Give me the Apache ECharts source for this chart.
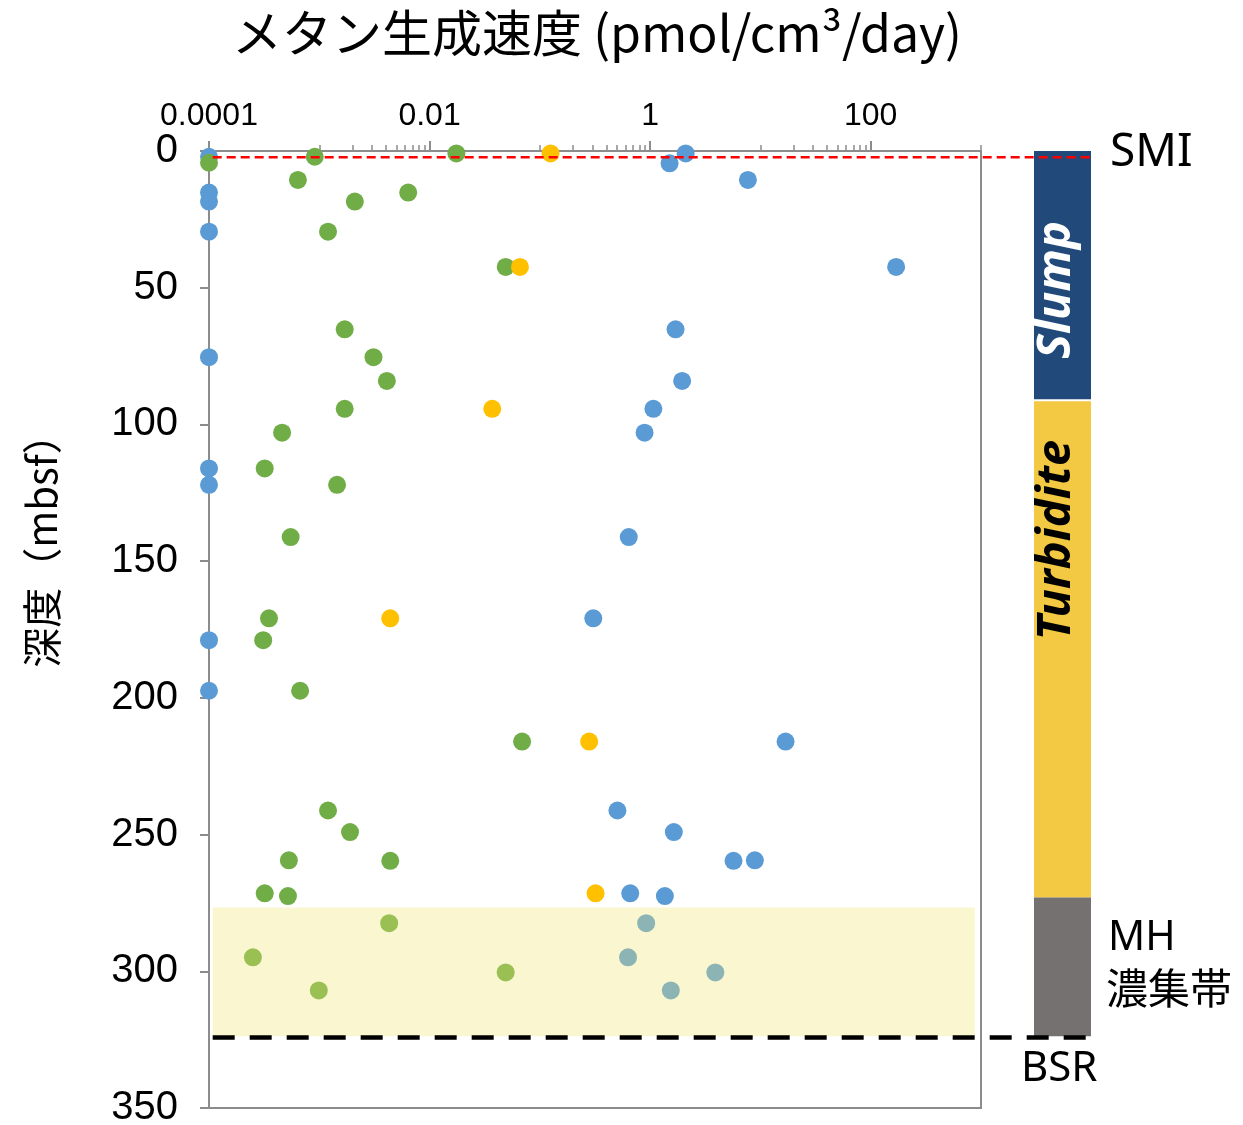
<!DOCTYPE html>
<html>
<head>
<meta charset="utf-8">
<script src="https://cdn.jsdelivr.net/npm/echarts@6/dist/echarts.min.js"></script>
<style>
  html, body { margin: 0; padding: 0; background: #ffffff; }
  #chart { width: 1243px; height: 1125px; }
</style>
</head>
<body>
<div id="chart"></div>
<script>
// Methane production rate (log scale) against sediment depth, with lithology column.

// Blue samples: rate (pmol/cm3/day) and depth (mbsf)
const blueRate  = [0.0001, 2.1, 1.5, 0.0001, 0.0001, 7.7, 0.0001, 170, 1.7, 0.0001,
                   1.95, 1.07, 0.89, 0.0001, 0.0001, 0.64, 0.305, 0.0001, 0.0001, 16.9,
                   0.505, 1.64, 5.7, 8.9, 0.66, 1.36, 0.92, 0.63, 3.9, 1.54];
const blueDepth = [2.1, 0.9, 4.5, 15.2, 18.5, 10.6, 29.5, 42.4, 65.2, 75.4,
                   84.1, 94.3, 103, 116.1, 122.1, 141.2, 170.9, 178.9, 197.4, 216,
                   241.2, 249.1, 259.6, 259.4, 271.5, 272.5, 282.4, 294.9, 300.4, 307];

// Green samples
const greenRate  = [0.0001, 0.00091, 0.0175, 0.00064, 0.0064, 0.0021, 0.0012, 0.049, 0.0017, 0.0031,
                    0.0041, 0.0017, 0.00046, 0.00032, 0.00145, 0.00055, 0.00035, 0.00031, 0.00067, 0.069,
                    0.0012, 0.0019, 0.00053, 0.0044, 0.00032, 0.00052, 0.0043, 0.00025, 0.049, 0.00099];
const greenDepth = [4.3, 2.1, 0.9, 10.6, 15.2, 18.5, 29.5, 42.4, 65.2, 75.4,
                    84.1, 94.3, 103, 116.1, 122.1, 141.2, 170.9, 178.9, 197.4, 216,
                    241.2, 249.1, 259.4, 259.6, 271.5, 272.5, 282.4, 294.9, 300.4, 307];

// Yellow samples
const yellowRate  = [0.125, 0.066, 0.037, 0.0044, 0.28, 0.32];
const yellowDepth = [0.9, 42.4, 94.3, 170.9, 216, 271.5];

// Top axis ticks
const majorTickValues = [0.0001, 0.01, 1, 100];
const xTickLabels = ['0.0001', '0.01', '1', '100'];
const minorTickValues = [0.001, 0.002, 0.003, 0.004, 0.005, 0.006, 0.007, 0.008, 0.009,
                         0.1, 0.2, 0.3, 0.4, 0.5, 0.6, 0.7, 0.8, 0.9,
                         10, 20, 30, 40, 50, 60, 70, 80, 90, 1000];

// Reference horizons and zones (depth in mbsf)
const smiDepth = [2.3];
const bsrDepth = [324.2];
const mhZoneDepth = [276.7, 323.8];
const zoneRateSpan = [0.000108, 880];      // horizontal extent of the hydrate zone box
const horizonRateSpan = [0.000108, 10000]; // horizon lines run on into the column

// Lithology column
const layerNames  = ['Slump', 'Turbidite', 'MH'];
const layerTop    = [0, 91.5, 273];
const layerBottom = [91.5, 273, 323.8];
const layerColors = ['#214A7B', '#F3C943', '#767171'];

const axisGray = '#8C8C8C';
const numFont = '"Liberation Sans", Arial, sans-serif';
const cjkFont = '"Noto Sans CJK JP", "Noto Sans", sans-serif';

function toPoints(xs, ys) { return xs.map((v, i) => [v, ys[i]]); }

function labelFor(v) {
  const i = majorTickValues.findIndex(t => Math.abs(Math.log10(t) - Math.log10(v)) < 1e-6);
  return i >= 0 ? xTickLabels[i] : '';
}

const chart = echarts.init(document.getElementById('chart'), null, { renderer: 'canvas' });

chart.setOption({
  animation: false,
  backgroundColor: '#ffffff',
  grid: [
    { left: 209, top: 151, width: 772, height: 957, outerBoundsMode: 'none', containLabel: false,
      show: true, borderColor: axisGray, borderWidth: 2, backgroundColor: 'transparent' },
    { left: 1034, top: 151, width: 57, height: 957, outerBoundsMode: 'none', containLabel: false,
      show: false }
  ],
  xAxis: [
    {
      type: 'log', gridIndex: 0, position: 'top', logBase: 10,
      min: 0.0001, max: 1000,
      axisLine: { show: true, lineStyle: { color: axisGray, width: 2 } },
      axisTick: { show: true, inside: false, length: 10, customValues: majorTickValues,
                  lineStyle: { color: axisGray, width: 2 } },
      axisLabel: { show: true, customValues: majorTickValues, formatter: labelFor,
                   margin: 19, fontSize: 32, fontFamily: numFont, color: '#000' },
      splitLine: { show: false }
    },
    {
      type: 'log', gridIndex: 0, position: 'top', logBase: 10,
      min: 0.0001, max: 1000,
      axisLine: { show: false },
      axisTick: { show: true, inside: false, length: 6, customValues: minorTickValues,
                  lineStyle: { color: axisGray, width: 1.5 } },
      axisLabel: { show: false },
      splitLine: { show: false }
    },
    {
      type: 'value', gridIndex: 1, min: 0, max: 1, show: false
    }
  ],
  yAxis: [
    {
      type: 'value', gridIndex: 0, min: 0, max: 350, interval: 50, inverse: true,
      axisLine: { show: true, lineStyle: { color: axisGray, width: 2 } },
      axisTick: { show: true, inside: false, length: 9, lineStyle: { color: axisGray, width: 2 } },
      axisLabel: { margin: 31, fontSize: 40, fontFamily: numFont, color: '#000' },
      splitLine: { show: false }
    },
    {
      type: 'value', gridIndex: 1, min: 0, max: 350, inverse: true, show: false
    }
  ],
  series: [
    {
      name: 'rate-blue', type: 'scatter', xAxisIndex: 0, yAxisIndex: 0, z: 2,
      symbolSize: 18, itemStyle: { color: '#5B9BD5', opacity: 1 },
      data: toPoints(blueRate, blueDepth)
    },
    {
      name: 'rate-green', type: 'scatter', xAxisIndex: 0, yAxisIndex: 0, z: 2,
      symbolSize: 18, itemStyle: { color: '#70AD47', opacity: 1 },
      data: toPoints(greenRate, greenDepth)
    },
    {
      name: 'rate-yellow', type: 'scatter', xAxisIndex: 0, yAxisIndex: 0, z: 2,
      symbolSize: 18, itemStyle: { color: '#FFC000', opacity: 1 },
      data: toPoints(yellowRate, yellowDepth)
    },
    {
      // hydrate zone box plus SMI / BSR horizons
      name: 'horizons', type: 'custom', xAxisIndex: 0, yAxisIndex: 0, z: 3,
      silent: true, clip: false,
      data: [[1, 100]],
      renderItem: function (params, api) {
        const z0 = api.coord([zoneRateSpan[0], mhZoneDepth[0]]);
        const z1 = api.coord([zoneRateSpan[1], mhZoneDepth[1]]);
        const s0 = api.coord([horizonRateSpan[0], smiDepth[0]]);
        const s1 = api.coord([horizonRateSpan[1], smiDepth[0]]);
        const b0 = api.coord([horizonRateSpan[0], bsrDepth[0]]);
        const b1 = api.coord([horizonRateSpan[1], bsrDepth[0]]);
        return {
          type: 'group',
          children: [
            { type: 'rect', shape: { x: z0[0], y: z0[1], width: z1[0] - z0[0], height: z1[1] - z0[1] },
              style: { fill: 'rgba(240,230,112,0.33)' } },
            { type: 'line', shape: { x1: b0[0], y1: b0[1], x2: b1[0], y2: b1[1] },
              style: { stroke: '#000', lineWidth: 4.5, lineDash: [22, 15] } },
            { type: 'line', shape: { x1: s0[0], y1: s0[1], x2: s1[0], y2: s1[1] },
              style: { stroke: '#FF0000', lineWidth: 2.5, lineDash: [9, 5] } }
          ]
        };
      }
    },
    {
      name: 'lithology', type: 'custom', xAxisIndex: 2, yAxisIndex: 1, z: 1,
      silent: true, clip: false,
      data: layerNames.map((n, i) => [0.5, layerTop[i], layerBottom[i], i]),
      encode: { x: 0, y: [1, 2] },
      renderItem: function (params, api) {
        const i = api.value(3);
        const p0 = api.coord([0, api.value(1)]);
        const p1 = api.coord([1, api.value(2)]);
        const gap = i === 0 ? 2 : 0;
        return {
          type: 'rect',
          shape: { x: p0[0], y: p0[1], width: p1[0] - p0[0], height: p1[1] - p0[1] - gap },
          style: { fill: layerColors[i] }
        };
      }
    }
  ],
  graphic: [
    { type: 'text', x: 597, y: 33, z: 10, silent: true,
      style: { text: 'メタン生成速度 (pmol/cm³/day)', font: '50px ' + cjkFont,
               fill: '#000', align: 'center', verticalAlign: 'middle' } },
    { type: 'text', x: 42, y: 541, z: 10, rotation: Math.PI / 2, silent: true,
      style: { text: '深度（mbsf）', font: '40px ' + cjkFont,
               fill: '#000', align: 'center', verticalAlign: 'middle' } },
    { type: 'text', x: 1057, y: 290, z: 10, rotation: Math.PI / 2, silent: true,
      style: { text: 'Slump', font: 'italic bold 47px "Noto Sans", sans-serif',
               fill: '#ffffff', align: 'center', verticalAlign: 'middle' } },
    { type: 'text', x: 1057, y: 540, z: 10, rotation: Math.PI / 2, silent: true,
      style: { text: 'Turbidite', font: 'italic bold 47px "Noto Sans", sans-serif',
               fill: '#000', align: 'center', verticalAlign: 'middle' } },
    { type: 'text', x: 1110, y: 153, z: 10, silent: true,
      style: { text: 'SMI', font: '46px "Noto Sans", sans-serif',
               fill: '#000', align: 'left', verticalAlign: 'middle' } },
    { type: 'text', x: 1108, y: 938, z: 10, silent: true,
      style: { text: 'MH', font: '41px "Noto Sans", sans-serif',
               fill: '#000', align: 'left', verticalAlign: 'middle' } },
    { type: 'text', x: 1106, y: 988, z: 10, silent: true,
      style: { text: '濃集帯', font: '42px ' + cjkFont,
               fill: '#000', align: 'left', verticalAlign: 'middle' } },
    { type: 'text', x: 1021, y: 1069, z: 10, silent: true,
      style: { text: 'BSR', font: '42px "Noto Sans", sans-serif',
               fill: '#000', align: 'left', verticalAlign: 'middle' } }
  ]
});
</script>
</body>
</html>
